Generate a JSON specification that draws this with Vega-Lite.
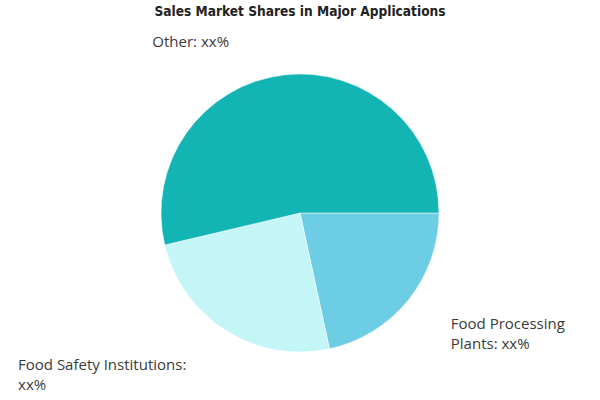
{
  "$schema": "https://vega.github.io/schema/vega-lite/v6.json",
  "width": 600,
  "height": 400,
  "autosize": {"type": "fit", "contains": "padding"},
  "padding": {"top": 5, "left": 0, "right": 0, "bottom": 0},
  "background": "white",
  "config": {"view": {"stroke": null}},
  "title": {
    "text": "Sales Market Shares in Major Applications",
    "font": "'DejaVu Sans Condensed', 'Liberation Sans', sans-serif",
    "fontWeight": "bold",
    "fontSize": 13.6,
    "color": "#222222",
    "anchor": "middle",
    "frame": "group",
    "offset": 7.4
  },
  "data": {
    "values": [
      {"app": "Food Processing Plants", "share": 21.6, "label": "Food Processing\nPlants: xx%"},
      {"app": "Food Safety Institutions", "share": 24.7, "label": "Food Safety Institutions:\nxx%"},
      {"app": "Other", "share": 53.7, "label": "Other: xx%"}
    ]
  },
  "encoding": {
    "theta": {"field": "share", "type": "quantitative", "stack": true, "scale": {"range": [1.5708, 7.8540]}},
    "order": {"field": "app", "type": "ordinal", "sort": "ascending"}
  },
  "layer": [
    {
      "mark": {"type": "arc", "outerRadius": 139, "stroke": "white", "strokeWidth": 0.5},
      "encoding": {
        "color": {
          "field": "app",
          "type": "nominal",
          "legend": null,
          "scale": {
            "domain": ["Food Processing Plants", "Food Safety Institutions", "Other"],
            "range": ["#6dcde5", "#c4f6f8", "#12b4b4"]
          }
        }
      }
    },
    {
      "mark": {"type": "text", "align": "right", "baseline": "middle", "dx": -51, "font": "Open Sans", "fontSize": 15, "color": "#3a3a3a", "lineBreak": "\n", "lineHeight": 20},
      "encoding": {
        "radius": {"value": 172},
        "text": {"condition": {"test": "datum.app === 'Other'", "field": "label"}, "value": ""}
      }
    },
    {
      "mark": {"type": "text", "align": "left", "baseline": "middle", "dx": 13, "font": "Open Sans", "fontSize": 15, "color": "#3a3a3a", "lineBreak": "\n", "lineHeight": 20},
      "encoding": {
        "radius": {"value": 177},
        "text": {"condition": {"test": "datum.app === 'Food Processing Plants'", "field": "label"}, "value": ""}
      }
    },
    {
      "mark": {"type": "text", "align": "left", "baseline": "middle", "dx": -186, "font": "Open Sans", "fontSize": 15, "color": "#3a3a3a", "lineBreak": "\n", "lineHeight": 20},
      "encoding": {
        "radius": {"value": 180},
        "text": {"condition": {"test": "datum.app === 'Food Safety Institutions'", "field": "label"}, "value": ""}
      }
    }
  ]
}
